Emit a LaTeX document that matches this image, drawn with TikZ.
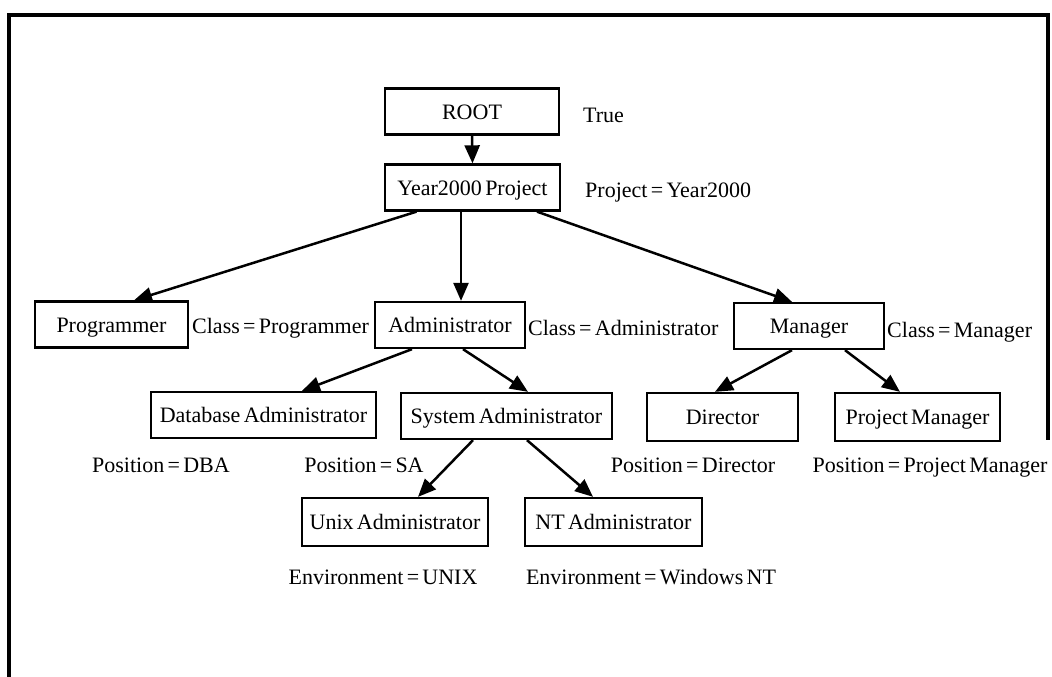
\documentclass[tikz,border=0pt]{standalone}
\usepackage{fontspec}
\setmainfont{Liberation Serif}[WordSpace=0.6]
\usetikzlibrary{arrows.meta}
\begin{document}
\begin{tikzpicture}[x=1pt,y=-1pt,
  txt/.style={font=\fontsize{22}{26}\selectfont, text height=15pt, text depth=0pt},
  box/.style={txt, draw, line width=2.3pt, minimum height=46pt, inner xsep=4pt, inner ysep=0pt},
  lbl/.style={txt, inner sep=0pt},
  link/.style={line width=2.5pt, -{Triangle[length=18pt,width=15pt]}},
  frameline/.style={line width=4pt, line join=miter}]
\useasboundingbox (0,0) rectangle (1052,677);

% open frame around the hierarchy
\draw[frameline] (9,677) -- (9,15) -- (1048,15) -- (1048,440);

% hierarchy boxes
\node[box, minimum width=174pt] (root)   at (472,111.5) {ROOT};
\node[box, minimum width=175pt] (y2k)    at (472.5,187.5) {Year2000 Project};
\node[box, minimum width=153pt] (prog)   at (111.5,324.5) {Programmer};
\node[box, minimum width=150pt] (admin)  at (450,325) {Administrator};
\node[box, minimum width=150pt] (mgr)    at (809,326) {Manager};
\node[box, minimum width=225pt] (dba)    at (263.5,415) {Database Administrator};
\node[box, minimum width=211pt] (sys)    at (506.5,416) {System Administrator};
\node[box, minimum width=151pt, minimum height=48pt] (dir) at (722.5,417) {Director};
\node[box, minimum width=165pt, minimum height=48pt] (pm)  at (917.5,417) {Project Manager};
\node[box, minimum width=186pt, minimum height=48pt] (unix) at (395,522) {Unix Administrator};
\node[box, minimum width=177pt, minimum height=48pt] (nt)   at (613.5,522) {NT Administrator};

% conditions attached to each box
\node[lbl, anchor=west] (ctrue)  at (583,114.5) {True};
\node[lbl, anchor=west] (cproj)  at (585,189.5) {Project = Year2000};
\node[lbl, anchor=west] (cprog)  at (192,326) {Class = Programmer};
\node[lbl, anchor=west] (cadmin) at (528,328) {Class = Administrator};
\node[lbl, anchor=west] (cmgr)   at (887,329.5) {Class = Manager};
\node[lbl] (cdba)  at (161,465) {Position = DBA};
\node[lbl] (csa)   at (364,465) {Position = SA};
\node[lbl] (cdir)  at (693,465) {Position = Director};
\node[lbl] (cpm)   at (930,465) {Position = Project Manager};
\node[lbl] (cunix) at (383,576.5) {Environment = UNIX};
\node[lbl] (cnt)   at (651,576.5) {Environment = Windows NT};

% parent-to-child links
\draw[link] (root.south) -- (y2k.north);
\draw[link] ([xshift=-56pt]y2k.south)   -- ([xshift=22.5pt]prog.north);
\draw[link] ([xshift=-11.5pt]y2k.south) -- ([xshift=11pt]admin.north);
\draw[link] ([xshift=64.5pt]y2k.south)  -- ([xshift=-17pt]mgr.north);
\draw[link] ([xshift=-38pt]admin.south) -- ([xshift=38.5pt]dba.north);
\draw[link] ([xshift=13pt]admin.south)  -- ([xshift=21.5pt]sys.north);
\draw[link] ([xshift=-17pt]mgr.south)   -- ([xshift=-7.5pt]dir.north);
\draw[link] ([xshift=36pt]mgr.south)    -- ([xshift=-17.5pt]pm.north);
\draw[link] ([xshift=-33.5pt]sys.south) -- ([xshift=23pt]unix.north);
\draw[link] ([xshift=20.5pt]sys.south)  -- ([xshift=-20.5pt]nt.north);
\end{tikzpicture}
\end{document}
